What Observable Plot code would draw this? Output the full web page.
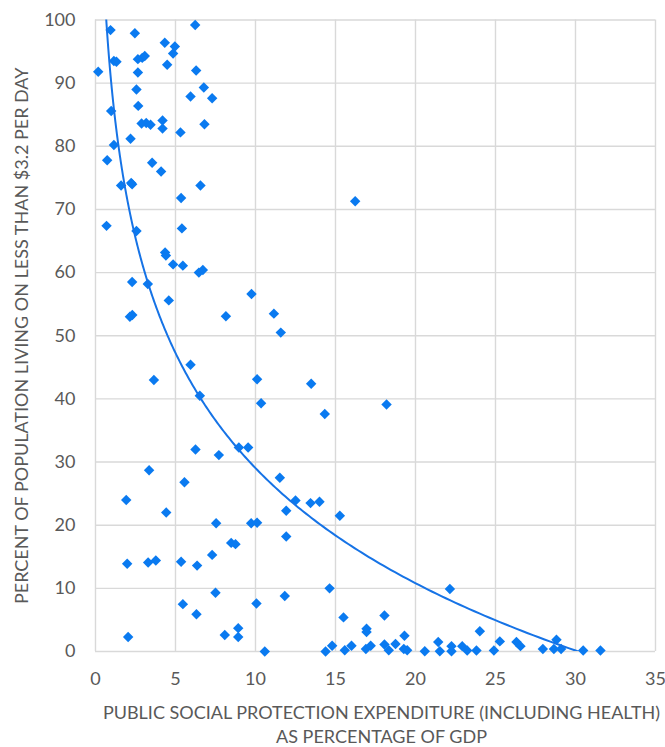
<!DOCTYPE html>
<html><head><meta charset="utf-8">
<script src="https://cdn.jsdelivr.net/npm/d3@7"></script>
<script src="https://cdn.jsdelivr.net/npm/@observablehq/plot@0.6"></script>
<style>body{margin:0;background:#fff}</style>
</head><body><div id="chart"></div>
<script>
const expenditure = [0.94,2.46,6.23,4.33,4.96,4.85,1.15,1.31,2.65,2.92,3.08,0.17,2.65,4.48,6.29,2.56,6.77,5.94,7.29,0.98,2.67,2.88,3.17,3.44,4.19,4.19,5.31,6.81,2.19,1.15,0.73,3.54,4.1,1.6,2.23,2.29,6.56,5.35,0.69,2.56,5.4,4.35,4.4,4.85,5.46,6.46,6.71,2.29,3.27,9.75,4.58,2.15,2.3,8.15,16.23,11.15,11.58,10.1,13.48,10.35,14.33,18.19,11.52,5.94,3.65,6.52,6.25,7.71,8.96,9.54,3.35,5.56,1.92,4.42,7.54,9.73,10.1,8.48,8.75,7.29,1.98,3.29,3.77,5.35,6.35,7.5,5.46,10.06,6.31,2.04,8.08,8.92,8.92,12.5,11.92,13.44,14.0,15.27,11.92,14.63,11.83,15.5,18.06,16.94,16.94,19.31,10.58,14.38,14.79,15.58,16.0,16.9,17.2,18.06,18.33,18.75,19.48,19.27,22.15,20.58,21.42,21.52,22.25,22.25,22.92,23.23,23.81,24.02,24.9,25.27,26.31,26.56,27.96,28.81,28.65,29.1,30.48,31.56];
const poverty = [98.4,97.9,99.2,96.4,95.8,94.7,93.5,93.4,93.8,94.0,94.3,91.8,91.7,92.9,92.0,89.0,89.3,87.9,87.6,85.6,86.4,83.6,83.7,83.4,84.1,82.8,82.2,83.5,81.2,80.2,77.8,77.4,76.0,73.8,74.2,74.0,73.8,71.8,67.4,66.6,67.0,63.2,62.7,61.3,61.1,60.0,60.4,58.5,58.2,56.6,55.6,53.0,53.3,53.1,71.3,53.5,50.5,43.1,42.4,39.3,37.6,39.1,27.5,45.4,43.0,40.5,32.0,31.1,32.3,32.3,28.7,26.8,24.0,22.0,20.3,20.3,20.4,17.2,17.0,15.3,13.9,14.1,14.4,14.2,13.6,9.3,7.5,7.6,5.9,2.3,2.6,3.7,2.3,23.9,22.3,23.5,23.7,21.5,18.2,10.0,8.8,5.4,5.7,3.6,3.1,2.5,0.0,0.0,0.9,0.2,0.9,0.4,0.9,1.1,0.2,1.2,0.2,0.4,9.9,0.05,1.5,0.05,0.85,0.05,0.85,0.15,0.15,3.2,0.15,1.6,1.5,0.85,0.4,1.85,0.4,0.4,0.15,0.15];
const xTicks = [0,5,10,15,20,25,30,35];
const yTicks = [0,10,20,30,40,50,60,70,80,90,100];
const xTitle = "PUBLIC SOCIAL PROTECTION EXPENDITURE (INCLUDING HEALTH)\nAS PERCENTAGE OF GDP";
const yTitle = "PERCENT OF POPULATION LIVING ON LESS THAN $3.2 PER DAY";
// logarithmic trendline coefficients: y = trendSlope * ln(x) + trendIntercept
const trendSlope = -26.3;
const trendIntercept = 89.6;

const points = expenditure.map((x, i) => ({x, y: poverty[i]}));
const [x0, x1] = d3.extent(expenditure);
const trend = d3.range(0, 401).map(i => {
  const x = x0 * Math.pow(x1 / x0, i / 400);
  return {x, y: trendSlope * Math.log(x) + trendIntercept};
});

const grey = "#595959";
const blue = "#0a7af0";

const chart = Plot.plot({
  width: 665,
  height: 747,
  marginLeft: 95,
  marginRight: 10,
  marginTop: 19.5,
  marginBottom: 96,
  x: {domain: [0, 35]},
  y: {domain: [0, 100]},
  style: {fontFamily: "Lato, 'Open Sans', sans-serif", fontSize: "18px", color: grey, background: "#fff"},
  marks: [
    Plot.gridX(xTicks, {stroke: "#d9d9d9", strokeOpacity: 1, strokeWidth: 1.4}),
    Plot.gridY(yTicks, {stroke: "#d9d9d9", strokeOpacity: 1, strokeWidth: 1.4}),
    Plot.axisX(xTicks, {tickSize: 0, tickPadding: 21, color: grey, fontSize: 18, label: null}),
    Plot.axisY(yTicks, {tickSize: 0, tickPadding: 20, color: grey, fontSize: 18, label: null}),
    Plot.dot(points, {x: "x", y: "y", symbol: "diamond2", r: 4.7, fill: blue, stroke: "none"}),
    Plot.line(trend, {x: "x", y: "y", stroke: "#1673e6", strokeWidth: 2, clip: true}),
    Plot.text([xTitle], {frameAnchor: "bottom", dx: 6, dy: 72, lineAnchor: "middle", lineHeight: 1.3, text: d => d, fill: grey, fontSize: 18}),
    Plot.text([yTitle], {frameAnchor: "left", dx: -73, rotate: -90, textAnchor: "middle", lineAnchor: "middle", text: d => d, fill: grey, fontSize: 18})
  ]
});
document.getElementById("chart").appendChild(chart);
</script>
</body></html>
